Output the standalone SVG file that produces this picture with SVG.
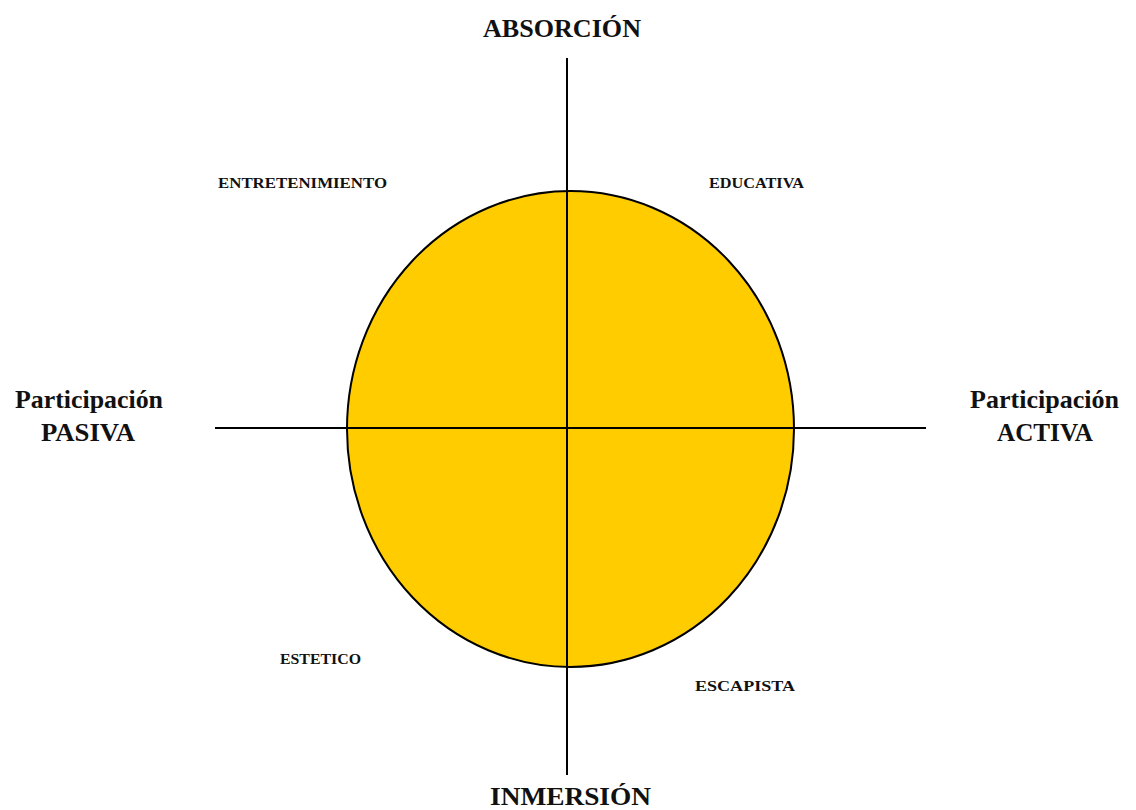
<svg xmlns="http://www.w3.org/2000/svg" width="1136" height="810" viewBox="0 0 1136 810">
<style>
.big{font-family:"Liberation Serif","DejaVu Serif",serif;font-weight:bold;font-size:26px;fill:#111}
.small{font-family:"Liberation Serif","DejaVu Serif",serif;font-weight:bold;font-size:14px;fill:#111}
.axis{stroke:#000;stroke-width:2;fill:none}
</style>
<rect width="1136" height="810" fill="#fff"/>
<g id="circle"><ellipse cx="570.5" cy="429" rx="223.5" ry="238" fill="#FFCC00" stroke="#000" stroke-width="2"/></g>
<g id="connectors">
<line class="axis" x1="567" y1="58" x2="567" y2="775"/>
<line class="axis" x1="215" y1="428" x2="926" y2="428"/>
</g>
<g id="absorcion"><text class="big" x="483" y="37" textLength="158" lengthAdjust="spacingAndGlyphs">ABSORCIÓN</text></g>
<g id="inmersion"><text class="big" x="490" y="805" textLength="161" lengthAdjust="spacingAndGlyphs">INMERSIÓN</text></g>
<g id="pasiva"><text class="big" x="15" y="408" textLength="148" lengthAdjust="spacingAndGlyphs">Participación</text><text class="big" x="41" y="441" textLength="94" lengthAdjust="spacingAndGlyphs">PASIVA</text></g>
<g id="activa"><text class="big" x="970" y="408" textLength="149" lengthAdjust="spacingAndGlyphs">Participación</text><text class="big" x="997" y="441" textLength="96" lengthAdjust="spacingAndGlyphs">ACTIVA</text></g>
<g id="entretenimiento"><text class="small" x="218" y="188" textLength="169" lengthAdjust="spacingAndGlyphs">ENTRETENIMIENTO</text></g>
<g id="educativa"><text class="small" x="709" y="188" textLength="95" lengthAdjust="spacingAndGlyphs">EDUCATIVA</text></g>
<g id="estetico"><text class="small" x="280" y="664" textLength="81" lengthAdjust="spacingAndGlyphs">ESTETICO</text></g>
<g id="escapista"><text class="small" x="695" y="691" textLength="100" lengthAdjust="spacingAndGlyphs">ESCAPISTA</text></g>
</svg>
